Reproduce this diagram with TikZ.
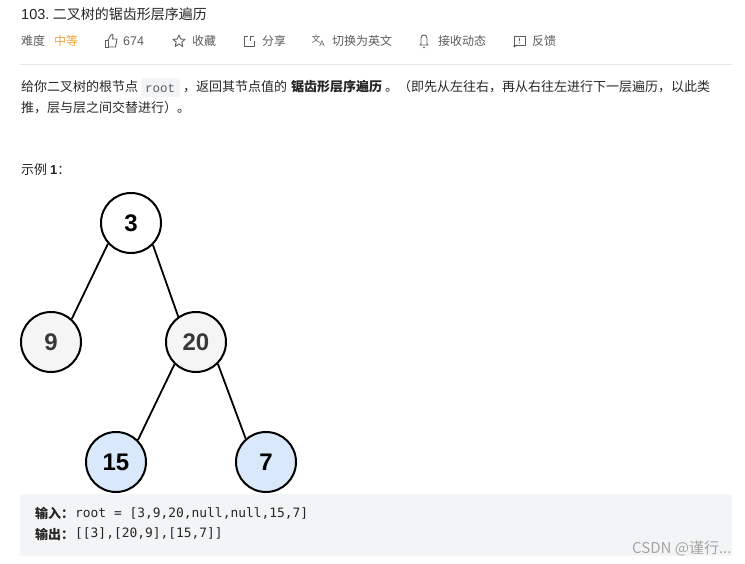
\documentclass[tikz,border=0pt]{standalone}
\usepackage{fontspec}
\setmainfont{Liberation Sans}
\newfontfamily\cjk{Noto Sans CJK SC}
\newfontfamily\codefont{DejaVu Sans Mono}
\newfontfamily\chipfont{Liberation Mono}
\definecolor{titlecolor}{RGB}{38,38,38}
\definecolor{metacolor}{RGB}{92,92,92}
\definecolor{orangecolor}{RGB}{240,163,60}
\definecolor{rulecolor}{RGB}{232,232,232}
\definecolor{chipcolor}{RGB}{243,244,245}
\definecolor{greycolor}{RGB}{245,245,245}
\definecolor{bluecolor}{RGB}{218,232,252}
\definecolor{markcolor}{RGB}{165,165,165}
\newcommand{\fs}[1]{\fontsize{#1}{#1}\selectfont}
\tikzset{
	txt/.style={inner sep=0pt, anchor=west, text=titlecolor, font=\cjk\fs{13}},
	meta/.style={txt, text=metacolor, font=\cjk\fs{12}},
	code/.style={inner sep=0pt, anchor=west, text=titlecolor, font=\codefont\fs{12.9}},
	icon/.style={draw=metacolor, line width=.9pt, line join=round},
	vertex/.style={circle, draw=black, line width=2pt, minimum size=60pt, inner sep=0pt, fill=white, text=black, font=\bfseries\fs{24}},
	edge/.style={draw=black, line width=1.8pt}
}
\begin{document}
\begin{tikzpicture}[x=1pt, y=-1pt]
	\useasboundingbox (0,0) rectangle (745,564);

	% header
	\node[txt, font=\cjk\fs{14}] (title) at (21,14) {{\rmfamily\fs{14.5}103.}\hspace{3.5pt}二叉树的锯齿形层序遍历};
	\node[meta] (level) at (21,41) {难度};
	\node[meta, text=orangecolor] (medium) at (54,41) {中等};
	\foreach \name/\x/\label in {fav/192/收藏, share/262/分享, lang/332/切换为英文, follow/438/接收动态, report/532/反馈} {
		\node[meta] (\name) at (\x,41) {\label};
	}
	\node[meta, font=\fs{12.5}] (likes) at (123,41) {674};

	% icons
	\draw[icon] (105,40) rectangle (108,47);
	\draw[icon] (108,40) -- (111,35) .. controls (112,33) and (114,35) .. (113,37) -- (112.5,39) -- (117,39) -- (115.5,47) -- (108,47);
	\draw[icon] (179,35) -- (180.7,39) -- (185,39.4) -- (181.8,42) -- (182.8,46.5) -- (179,44) -- (175.2,46.5) -- (176.2,42) -- (173,39.4) -- (177.3,39) -- cycle;
	\draw[icon] (248,36) -- (244,36) -- (244,46) -- (254,46) -- (254,41);
	\draw[icon] (250,41) -- (250,36) -- (254,36);
	\node[inner sep=0pt, text=metacolor, font=\cjk\fs{9}] (langa) at (316,39) {文};
	\node[inner sep=0pt, text=metacolor, font=\fs{8}] (langb) at (322,44) {A};
	\draw[icon] (420,45) -- (421,44) -- (421,38) .. controls (421,34) and (427,34) .. (427,38) -- (427,44) -- (428,45) -- cycle;
	\fill[metacolor] (424,47.5) circle (.9pt);
	\draw[icon] (514,36) rectangle (525,45);
	\draw[icon] (514,45) -- (514,47) -- (517,45);
	\draw[icon] (519.5,38) -- (519.5,41);
	\fill[metacolor] (519.5,43) circle (.6pt);

	\draw[rulecolor, line width=1pt] (20,64.5) -- (732,64.5);

	% description
	\fill[chipcolor, rounded corners=2pt] (141,78) rectangle (180,97);
	\node[txt] (lineA) at (21,87) {给你二叉树的根节点};
	\node[code, font=\chipfont\fs{12.5}, text=metacolor] (root) at (145,88) {root};
	\node[txt] (lineB) at (183,87) {，返回其节点值的};
	\node[txt, font=\cjk\bfseries\fs{13}] (lineC) at (291,87) {锯齿形层序遍历};
	\node[txt] (lineD) at (385,87) {。（即先从左往右，再从右往左进行下一层遍历，以此类};
	\node[txt] (lineE) at (21,108) {推，层与层之间交替进行）。};
	\node[txt, font=\cjk\fs{13}] (sample) at (21,170) {示例 {\rmfamily\bfseries 1}：};

	% tree
	\node[vertex] (n3) at (131,223) {3};
	\node[vertex, fill=greycolor, text=black!78] (n9) at (51,342) {9};
	\node[vertex, fill=greycolor, text=black!78] (n20) at (196,342) {20};
	\node[vertex, fill=bluecolor] (n15) at (116,462) {15};
	\node[vertex, fill=bluecolor] (n7) at (266,462) {7};
	\draw[edge] (n3.222) -- (n9.48);
	\draw[edge] (n3.315) -- (n20.125);
	\draw[edge] (n20.226) -- (n15.45);
	\draw[edge] (n20.315) -- (n7.131);

	% sample box
	\fill[chipcolor, rounded corners=2pt] (20,494) rectangle (732,556);
	\node[txt, font=\cjk\bfseries\fs{13}] (inlabel) at (35,513) {输入：};
	\node[code] (inval) at (75,513) {root = [3,9,20,null,null,15,7]};
	\node[txt, font=\cjk\bfseries\fs{13}] (outlabel) at (35,534) {输出：};
	\node[code] (outval) at (75,534) {[[3],[20,9],[15,7]]};
	\node[txt, text=markcolor, font=\cjk\fs{15}] (mark) at (632,548) {CSDN @谨行...};
\end{tikzpicture}
\end{document}
